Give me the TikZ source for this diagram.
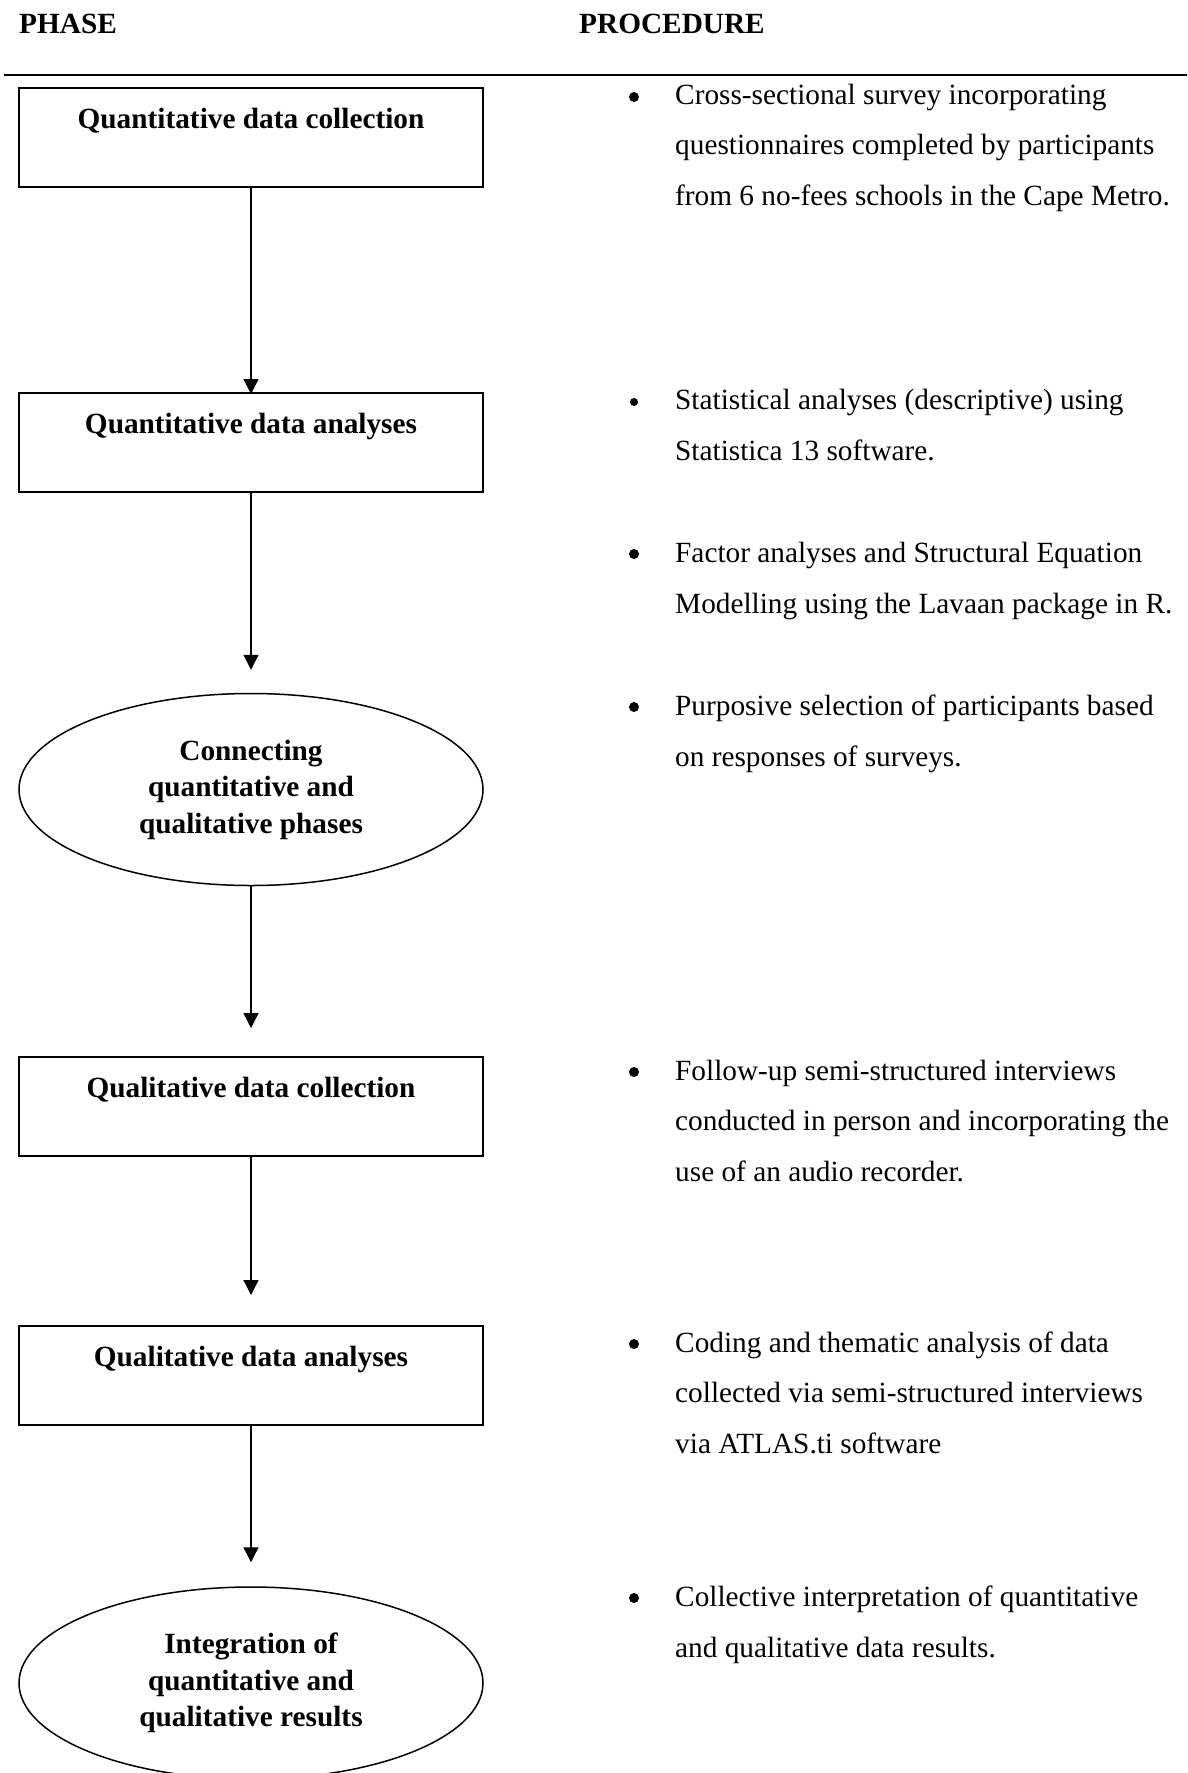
\documentclass[tikz,border=0pt]{standalone}
\usepackage{fontspec}
\setmainfont{Liberation Serif}
\usetikzlibrary{shapes.geometric,arrows.meta}

\begin{document}
\begin{tikzpicture}[x=1pt,y=-1pt,
  head/.style={font=\fontsize{29.3}{35}\selectfont\bfseries, inner sep=0pt, anchor=base west},
  phasebox/.style={draw, line width=2pt, rectangle, minimum width=464pt,
    inner sep=0pt, text height=40pt, text depth=59pt, anchor=base,
    font=\fontsize{29.3}{35}\selectfont\bfseries},
  phaseoval/.style={draw, line width=1.5pt, ellipse, minimum width=464pt,
    minimum height=192pt, inner sep=0pt, align=center,
    font=\fontsize{29.3}{36.5}\selectfont\bfseries},
  flow/.style={line width=1.3pt, -{Triangle[length=15pt,width=15pt]}},
  dot/.style={circle, fill=black, inner sep=0pt, minimum size=10pt},
  smalldot/.style={dot, minimum size=8pt},
  % multi-line items are placed by the baseline of their last line
  item/.style={inner sep=0pt, anchor=base west, align=left,
    font=\fontsize{29.3}{50.5}\selectfont}
]
\useasboundingbox (0,0) rectangle (1187,1773);

% column headings and rule
\node[head] (hphase) at (19,33) {PHASE};
\node[head] (hproc) at (579,33) {PROCEDURE};
\coordinate (ruleL) at (4,75);
\coordinate (ruleR) at (1187,75);
\draw[line width=2.5pt] (ruleL) -- (ruleR);

% phases
\node[phasebox] (b1) at (251,128) {Quantitative data collection};
\node[phasebox] (b2) at (251,433) {Quantitative data analyses};
\node[phaseoval] (e1) at (251,789.5) {Connecting\\quantitative and\\qualitative phases};
\node[phasebox] (b3) at (251,1097) {Qualitative data collection};
\node[phasebox] (b4) at (251,1366) {Qualitative data analyses};
\node[phaseoval] (e2) at (251,1683) {Integration of\\quantitative and\\qualitative results};

% flow between phases
\draw[flow, shorten >=-2pt] (b1) -- (b2);
\draw[flow, shorten >=23pt] (b2) -- (e1);
\draw[flow, shorten >=28pt] (e1) -- (b3);
\draw[flow, shorten >=30pt] (b3) -- (b4);
\draw[flow, shorten >=24pt] (b4) -- (e2);

% procedures
\node[dot] (d1) at (634,97) {};
\node[item] (p1) at (675,205) {Cross-sectional survey incorporating\\questionnaires completed by participants\\from 6 no-fees schools in the Cape Metro.};
\node[smalldot] (d2) at (634,402) {};
\node[item] (p2) at (675,460) {Statistical analyses (descriptive) using\\Statistica 13 software.};
\node[dot] (d3) at (634,554) {};
\node[item] (p3) at (675,613) {Factor analyses and Structural Equation\\Modelling using the Lavaan package in R.};
\node[dot] (d4) at (634,707) {};
\node[item] (p4) at (675,766) {Purposive selection of participants based\\on responses of surveys.};
\node[dot] (d5) at (634,1072) {};
\node[item] (p5) at (675,1181) {Follow-up semi-structured interviews\\conducted in person and incorporating the\\use of an audio recorder.};
\node[dot] (d6) at (634,1344) {};
\node[item] (p6) at (675,1453) {Coding and thematic analysis of data\\collected via semi-structured interviews\\via ATLAS.ti software};
\node[dot] (d7) at (634,1598) {};
\node[item] (p7) at (675,1657) {Collective interpretation of quantitative\\and qualitative data results.};
\end{tikzpicture}
\end{document}
